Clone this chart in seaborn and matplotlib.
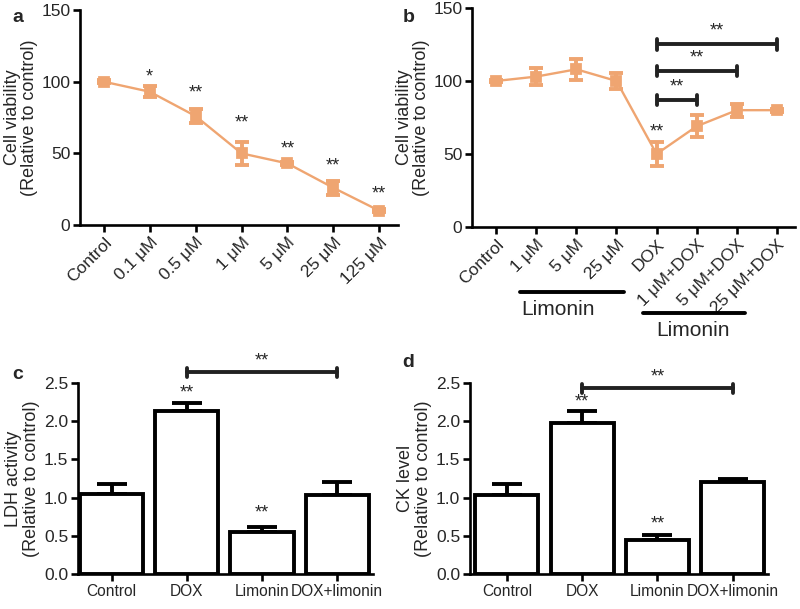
import matplotlib
matplotlib.use("Agg")
import matplotlib.pyplot as plt
import seaborn as sns
import numpy as np
import pandas as pd

sns.set_theme(style="ticks")
plt.rcParams['font.family'] = ['Liberation Sans', 'DejaVu Sans']

# ---- data ----
a_labels = ["Control", "0.1 μM", "0.5 μM", "1 μM", "5 μM", "25 μM", "125 μM"]
a_values = [100, 93, 76, 50, 43, 26, 10]
a_err = [1, 4, 5, 8, 1, 5, 1]
a_stars = ["", "*", "**", "**", "**", "**", "**"]
a_star_y = [0, 103, 92, 71, 53, 41, 22]

b_labels = ["Control", "1 μM", "5 μM", "25 μM", "DOX", "1 μM+DOX", "5 μM+DOX", "25 μM+DOX"]
b_values = [100, 103, 108, 100, 50, 69, 80, 80]
b_err = [1, 6, 7, 5.5, 8, 7.5, 4.5, 1]
b_brackets = [(4, 5, 87), (4, 6, 107), (4, 7, 125)]
b_dox_star = 65

bar_labels = ["Control", "DOX", "Limonin", "DOX+limonin"]
c_values = [1.05, 2.13, 0.55, 1.03]
c_err = [0.13, 0.11, 0.06, 0.17]
c_stars = ["", "**", "**", ""]
c_star_y = [0, 2.37, 0.80, 0]
c_bracket = (1, 3, 2.64)

d_values = [1.04, 1.98, 0.45, 1.20]
d_err = [0.14, 0.15, 0.06, 0.04]
d_stars = ["", "**", "**", ""]
d_star_y = [0, 2.25, 0.65, 0]
d_bracket = (1, 3, 2.43)

orange = "#EFA571"
LW = 1.9
TICK_FS = 12.5
LABEL_FS = 13
STAR_FS = 13

fig = plt.figure(figsize=(8, 6.09), dpi=100)

def style_axes(ax):
    sns.despine(ax=ax)
    for s in ["left", "bottom"]:
        ax.spines[s].set_linewidth(LW)
        ax.spines[s].set_color("black")
    ax.tick_params(axis="both", width=LW, length=5, color="black", labelsize=TICK_FS, pad=2)

def line_panel(ax, labels, values, err):
    df = pd.DataFrame({"x": labels, "y": values})
    sns.pointplot(data=df, x="x", y="y", color=orange, markers="s", errorbar=None,
                  ax=ax, linewidth=1.7, markersize=7)
    ax.errorbar(range(len(values)), values, yerr=err, fmt="none", ecolor=orange,
                elinewidth=2.8, capsize=5, capthick=2.8, zorder=4)
    ax.set_ylim(0, 150)
    ax.set_yticks([0, 50, 100, 150])
    ax.set_xlabel("")
    ax.set_ylabel("Cell viability\n(Relative to control)", fontsize=LABEL_FS, linespacing=1.05,
                  labelpad=2)
    style_axes(ax)
    plt.setp(ax.get_xticklabels(), rotation=45, ha="right", rotation_mode="anchor",
             fontsize=TICK_FS)

# Panel a
axa = fig.add_axes([0.1, 0.6305, 0.3975, 0.353])
line_panel(axa, a_labels, a_values, a_err)
axa.set_xlim(-0.52, 6.41)
for i, s in enumerate(a_stars):
    if s:
        axa.text(i, a_star_y[i], s, ha="center", va="center", fontsize=STAR_FS)

# Panel b
axb = fig.add_axes([0.59, 0.6273, 0.40375, 0.3596])
line_panel(axb, b_labels, b_values, b_err)
axb.set_xlim(-0.6, 7.45)
axb.text(4, b_dox_star, "**", ha="center", va="center", fontsize=STAR_FS)
for (i0, i1, h) in b_brackets:
    axb.plot([i0, i1], [h, h], color="#222222", lw=2.8, solid_capstyle="butt", clip_on=False)
    for xx in (i0, i1):
        axb.plot([xx, xx], [h - 3.5, h + 3.5], color="#222222", lw=2.8, clip_on=False)
    axb.text((i0 + i1) / 2, h + 9, "**", ha="center", va="center", fontsize=STAR_FS)
# Limonin group underlines
trans = axb.get_xaxis_transform()
axb.plot([0.6, 3.2], [-0.295, -0.295], transform=trans, color="black", lw=2.8, clip_on=False)
axb.text(1.55, -0.375, "Limonin", transform=trans, ha="center", va="center", fontsize=15)
axb.plot([3.65, 6.2], [-0.395, -0.395], transform=trans, color="black", lw=2.8, clip_on=False)
axb.text(4.9, -0.475, "Limonin", transform=trans, ha="center", va="center", fontsize=15)

def bar_panel(ax, values, err, stars, star_y, bracket, ylabel):
    df = pd.DataFrame({"x": bar_labels, "y": values})
    sns.barplot(data=df, x="x", y="y", color="white", edgecolor="black", linewidth=2.8,
                width=0.84, errorbar=None, ax=ax, zorder=3)
    ax.errorbar(range(len(values)), values, yerr=[[0] * len(err), err], fmt="none",
                ecolor="black", elinewidth=2.8, capsize=11, capthick=2.8, zorder=2)
    ax.set_ylim(0, 2.5)
    ax.set_yticks([0, 0.5, 1.0, 1.5, 2.0, 2.5])
    ax.set_yticklabels(["0.0", "0.5", "1.0", "1.5", "2.0", "2.5"])
    ax.set_xlabel("")
    ax.set_ylabel(ylabel, fontsize=LABEL_FS, linespacing=1.05, labelpad=3)
    style_axes(ax)
    ax.tick_params(axis="x", labelsize=11.2)
    for i, s in enumerate(stars):
        if s:
            ax.text(i, star_y[i], s, ha="center", va="center", fontsize=STAR_FS)
    i0, i1, h = bracket
    ax.plot([i0, i1], [h, h], color="#222222", lw=2.8, clip_on=False)
    for xx in (i0, i1):
        ax.plot([xx, xx], [h - 0.06, h + 0.06], color="#222222", lw=2.8, clip_on=False)
    ax.text((i0 + i1) / 2, h + 0.15, "**", ha="center", va="center", fontsize=STAR_FS)

axc = fig.add_axes([0.0975, 0.0575, 0.369, 0.3136])
bar_panel(axc, c_values, c_err, c_stars, c_star_y, c_bracket,
          "LDH activity\n(Relative to control)")
axc.set_xlim(-0.45, 3.48)

axd = fig.add_axes([0.5875, 0.0575, 0.3725, 0.3136])
bar_panel(axd, d_values, d_err, d_stars, d_star_y, d_bracket,
          "CK level\n(Relative to control)")
axd.set_xlim(-0.49, 3.47)

# panel letters
for x, y, t in [(0.015, 0.972, "a"), (0.503, 0.972, "b"), (0.015, 0.385, "c"), (0.503, 0.404, "d")]:
    fig.text(x, y, t, fontsize=14, fontweight="bold", va="center")

fig.savefig("out.png", dpi=100)
